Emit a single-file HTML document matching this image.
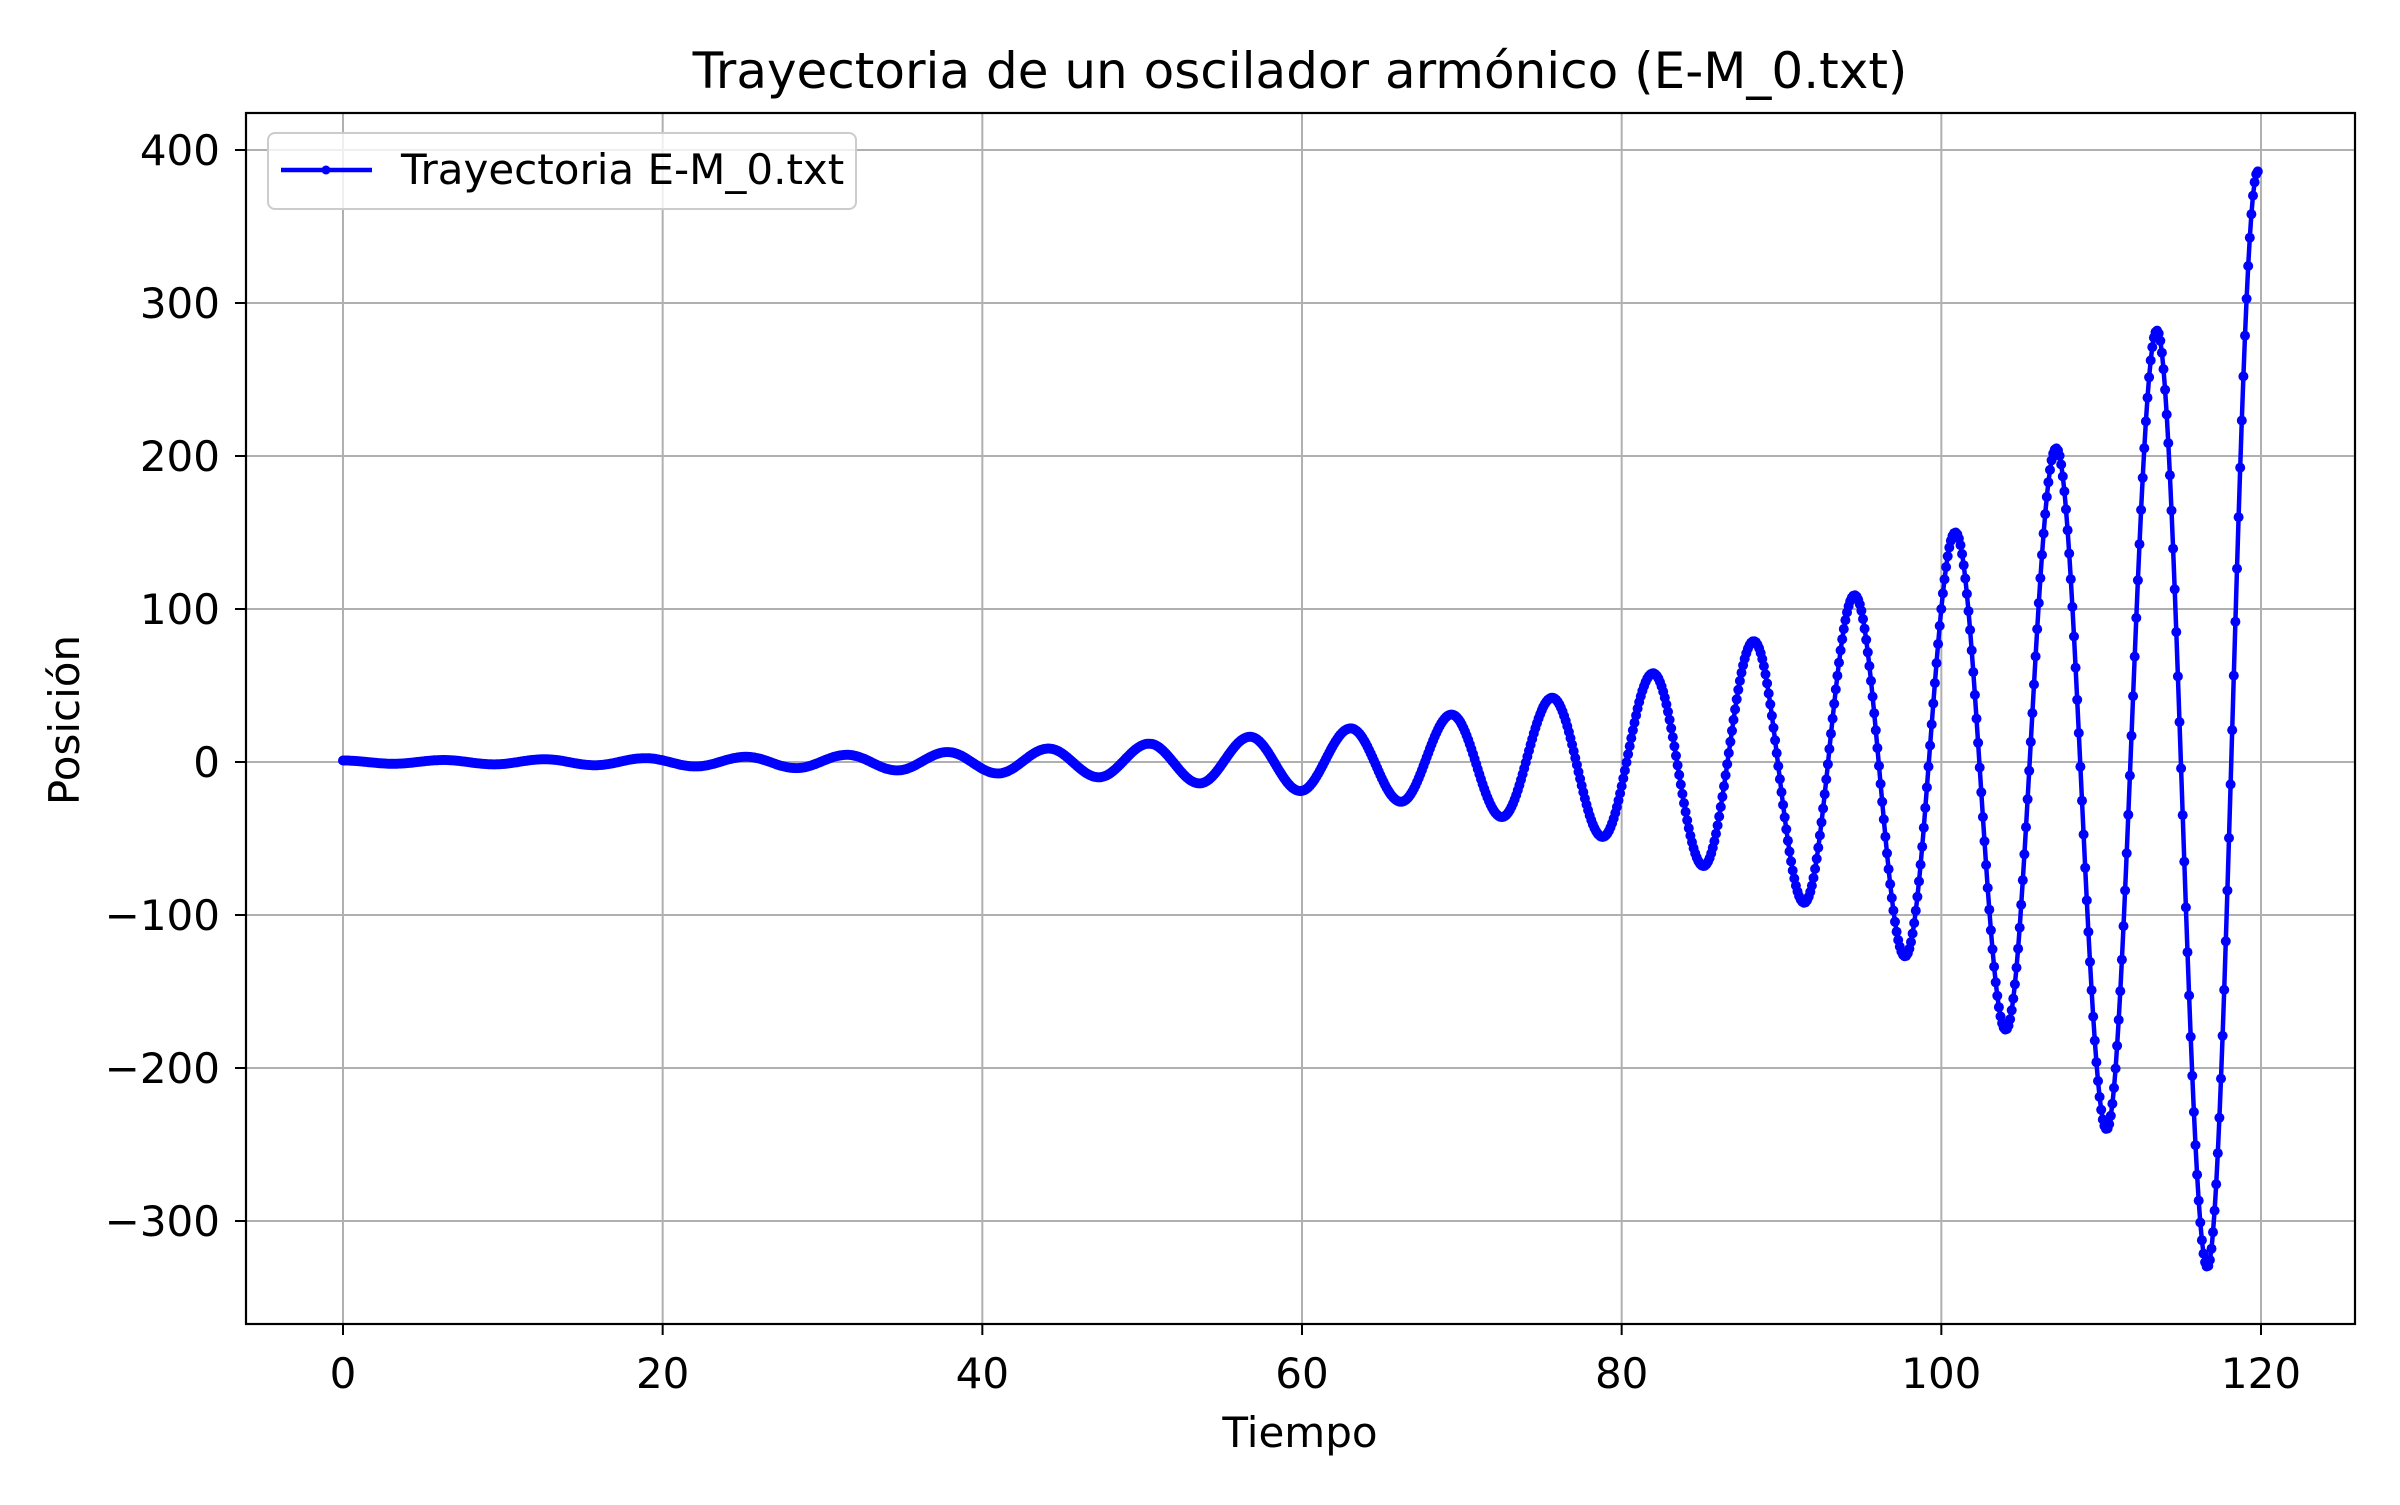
<!DOCTYPE html>
<html><head><meta charset="utf-8"><style>
html,body{margin:0;padding:0;background:#fff;}
svg text{font-family:"DejaVu Sans","Liberation Sans",sans-serif;fill:#000;}
</style></head><body>
<svg id="chart" width="2400" height="1500" viewBox="0 0 2400 1500" xmlns="http://www.w3.org/2000/svg">
<rect width="2400" height="1500" fill="#fff"/>
<g id="grid"></g>
<g id="plot"></g>
<rect x="246" y="113" width="2109" height="1211" fill="none" stroke="#000" stroke-width="2.2"/>
<g id="ticks"></g>
<text x="1300" y="88" font-size="50" text-anchor="middle">Trayectoria de un oscilador armónico (E-M_0.txt)</text>
<text x="1300" y="1447" font-size="42" text-anchor="middle">Tiempo</text>
<text x="79" y="720" font-size="42" text-anchor="middle" transform="rotate(-90 79 720)">Posición</text>
<g>
<rect x="268" y="133" width="588" height="76" rx="7" fill="#fff" fill-opacity="0.8" stroke="#ccc" stroke-width="2"/>
<line x1="281" y1="170" x2="372" y2="170" stroke="#0000ff" stroke-width="4.5"/>
<circle cx="326" cy="170" r="4.5" fill="#0000ff"/>
<text x="401" y="184" font-size="42">Trayectoria E-M_0.txt</text>
</g>
</svg>
<script>
// extrema (time, position)
const extremaT = [0,3.15,6.31,9.46,12.61,15.76,18.92,22.07,25.22,28.37,31.53,34.68,37.83,40.98,44.14,47.29,50.44,53.59,56.75,59.90,63.05,66.20,69.36,72.51,75.66,78.81,81.97,85.12,88.27,91.42,94.58,97.73,100.88,104.03,107.19,110.34,113.49,116.64,119.80];
const extremaV = [1.0,-1.15,1.3,-1.55,1.8,-2.1,2.5,-2.9,3.4,-4.0,4.7,-5.5,6.5,-7.5,8.8,-10,12,-14,16.5,-19,22,-26,31,-36,42,-49,58,-68,79,-92,109,-127,150,-175,205,-240,282,-330,386];
const xTicks = [0,20,40,60,80,100,120];
const yTicks = [-300,-200,-100,0,100,200,300,400];
const xLabels = ["0","20","40","60","80","100","120"];
const yLabels = ["\u2212300","\u2212200","\u2212100","0","100","200","300","400"];
const tStep = 0.1;

const NS="http://www.w3.org/2000/svg";
const X = t => 343 + (t-0)*(2261-343)/120;
const Y = v => 762 - v*(762-150)/400;

const grid=document.getElementById('grid'), ticks=document.getElementById('ticks'), plot=document.getElementById('plot');
function mk(tag,attrs,parent){const e=document.createElementNS(NS,tag);for(const k in attrs)e.setAttribute(k,attrs[k]);parent.appendChild(e);return e;}

xTicks.forEach((t,i)=>{
  const gl=mk('line',{x1:X(t),x2:X(t),y1:113,y2:1324,stroke:'#b0b0b0','stroke-width':2},grid);
  
  
  const tk=mk('line',{x1:X(t),x2:X(t),y1:1324,y2:1335,stroke:'#000','stroke-width':2},ticks);
  
  
  const tx=mk('text',{x:X(t),y:1388,'font-size':42,'text-anchor':'middle'},ticks);
  tx.textContent=xLabels[i];
  
  
});
yTicks.forEach((v,i)=>{
  const gl=mk('line',{x1:246,x2:2355,y1:Y(v),y2:Y(v),stroke:'#b0b0b0','stroke-width':2},grid);
  
  
  const tk=mk('line',{x1:235,x2:246,y1:Y(v),y2:Y(v),stroke:'#000','stroke-width':2},ticks);
  
  
  const tx=mk('text',{x:220,y:Y(v)+15,'font-size':42,'text-anchor':'end'},ticks);
  tx.textContent=yLabels[i];
  
  
});

const pts=[];
const tEnd=extremaT[extremaT.length-1];
for(let t=0;t<=tEnd+1e-9;t+=tStep){
  let k=0;while(k<extremaT.length-2&&t>extremaT[k+1])k++;
  const a=extremaT[k],b=extremaT[k+1],va=extremaV[k],vb=extremaV[k+1];
  const f=(1-Math.cos(Math.PI*Math.min(1,(t-a)/(b-a))))/2;
  pts.push([t,va+(vb-va)*f]);
}
const path=mk('polyline',{points:pts.map(p=>X(p[0]).toFixed(1)+','+Y(p[1]).toFixed(1)).join(' '),fill:'none',stroke:'#0000ff','stroke-width':4.5,'stroke-linejoin':'round'},plot);


pts.forEach(p=>{
  const c=mk('circle',{cx:X(p[0]).toFixed(1),cy:Y(p[1]).toFixed(1),r:5,fill:'#0000ff'},plot);
  
  
});
</script>
</body></html>
